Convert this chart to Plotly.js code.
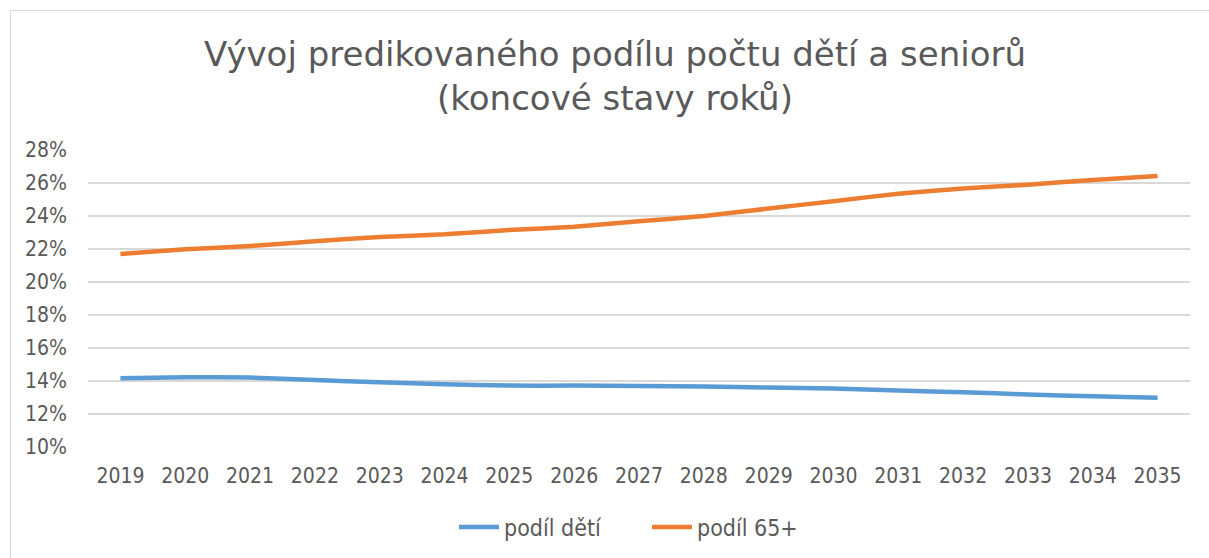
<!DOCTYPE html>
<html>
<head>
<meta charset="utf-8">
<script src="https://cdn.plot.ly/plotly-3.0.1.min.js"></script>
<style>
html,body{margin:0;padding:0;overflow:hidden;background:#fff;}
#chart{width:1209px;height:558px;position:absolute;left:0;top:0;}
#frame{position:absolute;left:10px;top:10px;width:1400px;height:800px;border:1px solid #d9d9d9;pointer-events:none;}
</style>
</head>
<body>
<div id="chart"></div>
<div id="frame"></div>
<script>
const years = ['2019','2020','2021','2022','2023','2024','2025','2026','2027','2028','2029','2030','2031','2032','2033','2034','2035'];
const podilDeti = [0.1416,0.1422,0.1421,0.1406,0.1392,0.1380,0.1372,0.1372,0.1370,0.1366,0.1360,0.1354,0.1342,0.1332,0.1318,0.1307,0.1299];
const podil65 = [0.2170,0.2198,0.2218,0.2247,0.2273,0.2289,0.2315,0.2335,0.2368,0.2400,0.2445,0.2490,0.2535,0.2566,0.2590,0.2618,0.2642];
const seriesNames = ['podíl dětí','podíl 65+'];
const seriesColors = ['#5B9BD5','#ED7D31'];
const yTicks = [0.10,0.12,0.14,0.16,0.18,0.20,0.22,0.24,0.26,0.28];

const FONT = '"DejaVu Sans Condensed","DejaVu Sans",sans-serif';
const TFONT = '"DejaVu Sans",sans-serif';
const TXT = '#595959';

const traces = [podilDeti, podil65].map((vals, i) => ({
  x: years, y: vals, type: 'scatter', mode: 'lines', name: seriesNames[i],
  line: {color: seriesColors[i], width: 4.5, shape: 'spline', smoothing: 0.5}
}));

const layout = {
  width: 1209, height: 558,
  paper_bgcolor: '#fff', plot_bgcolor: '#fff',
  margin: {l: 88, r: 19, t: 150, b: 111},
  font: {family: FONT, color: TXT},
  title: {
    text: 'Vývoj predikovaného podílu počtu dětí a seniorů<br>(koncové stavy roků)',
    font: {family: TFONT, size: 34, color: TXT},
    x: 615/1209, xanchor: 'center', xref: 'container',
    y: 1 - 66/558, yanchor: 'top', yref: 'container'
  },
  xaxis: {
    type: 'category', range: [-0.5, 16.5],
    showgrid: false, zeroline: false, showline: false, ticks: '',
    tickfont: {family: FONT, size: 21, color: TXT},
    ticklabelstandoff: 14
  },
  yaxis: {
    range: [0.10, 0.28], tickvals: yTicks, tickformat: '.0%',
    showgrid: true, gridcolor: '#D9D9D9', gridwidth: 1.3,
    zeroline: false, showline: false, ticks: '',
    tickfont: {family: FONT, size: 21, color: TXT},
    ticklabelstandoff: 20
  },
  showlegend: true,
  legend: {
    orientation: 'h', x: 454/1209, xanchor: 'left', xref: 'container',
    y: 1 - 527/558, yanchor: 'middle', yref: 'container',
    font: {family: FONT, size: 23, color: TXT},
    itemwidth: 40, entrywidth: 138, entrywidthmode: 'pixels',
    tracegroupgap: 0, bgcolor: 'rgba(0,0,0,0)'
  }
};

Plotly.newPlot('chart', traces, layout, {displayModeBar: false, staticPlot: true});
</script>
</body>
</html>
